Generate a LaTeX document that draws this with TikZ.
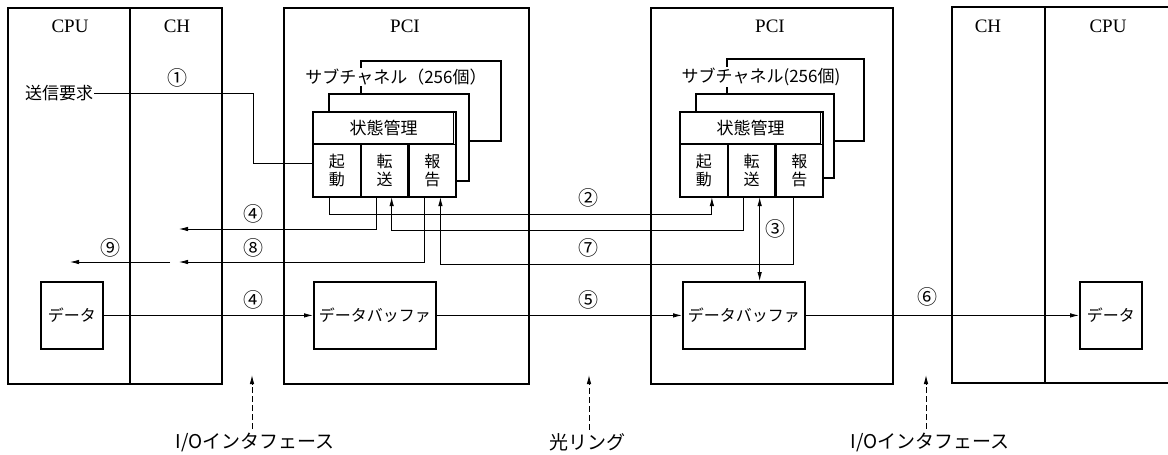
\documentclass[tikz,border=0pt]{standalone}
\usepackage{fontspec}
\newfontfamily\jp{Noto Sans CJK JP}
\newfontfamily\ttl{Liberation Serif}
\usetikzlibrary{arrows.meta,positioning}

\tikzset{
  frame/.style={draw,line width=2.4pt,anchor=north west,inner sep=0pt},
  divider/.style={line width=1.1pt},
  title/.style={font=\ttl\fontsize{19}{21}\selectfont},
  jptext/.style={font=\jp\fontsize{17}{20}\selectfont,inner sep=1pt},
  num/.style={font=\jp\fontsize{20}{22}\selectfont,inner sep=0pt},
  sub/.style={draw,line width=1.8pt,fill=white,anchor=north west,inner sep=0pt},
  head/.style={draw,line width=1.1pt,fill=white,anchor=north west,inner sep=0pt,
    minimum width=140pt,minimum height=31pt,font=\jp\fontsize{17}{20}\selectfont},
  cell/.style={draw,line width=1.1pt,fill=white,inner sep=0pt,minimum width=46.67pt,
    minimum height=52pt,align=center,font=\jp\fontsize{16}{18}\selectfont},
  databox/.style={draw,line width=1.8pt,anchor=north west,inner sep=0pt,
    font=\jp\fontsize{16}{18}\selectfont},
  link/.style={line width=0.8pt},
  guide/.style={line width=0.9pt,dash pattern=on 6pt off 3pt,->},
  bottomlbl/.style={font=\jp\fontsize{19}{22}\selectfont}
}

\begin{document}
\begin{tikzpicture}[x=1pt,y=-1pt,>={Latex[length=9pt,width=4.5pt]}]
\useasboundingbox (0,0) rectangle (1168,455);

% host (left), PCI, PCI, host (right)
\node[frame,minimum width=214pt,minimum height=376pt] (lhost) at (7,7) {};
\draw[divider] (130,7) -- (130,383);
\node[frame,minimum width=245pt,minimum height=376pt] (pci1) at (283,7) {};
\node[frame,minimum width=242pt,minimum height=376pt] (pci2) at (650,7) {};
\draw[line width=2.4pt] (1172,7) -| (952,383) -- (1172,383);
\draw[divider] (1045,7) -- (1045,383);

\node[title] (cpu1) at (70,26) {CPU};
\node[title] (ch1) at (177,26) {CH};
\node[title] (pcit1) at (405,26) {PCI};
\node[title] (pcit2) at (770,26) {PCI};
\node[title] (ch2) at (988,26) {CH};
\node[title] (cpu2) at (1108,26) {CPU};

% sub channels, PCI 1
\node[sub,minimum width=140pt,minimum height=80pt] (back1) at (360,60) {};
\node[jptext,fill=white] (sublbl1) at (396,77) {サブチャネル（256個）};
\node[sub,minimum width=140pt,minimum height=87pt] (mid1) at (328,93) {};
\node[head] (st1) at (313,112) {状態管理};
\node[cell,anchor=north west] (kido1) at (st1.south west) {起\\動};
\node[cell,anchor=west] (tenso1) at (kido1.east) {転\\送};
\node[cell,anchor=west] (hokoku1) at (tenso1.east) {報\\告};
\draw[line width=1.8pt] (st1.north west) rectangle (hokoku1.south east);

% sub channels, PCI 2
\node[sub,minimum width=137pt,minimum height=82pt] (back2) at (726,58) {};
\node[jptext,fill=white] (sublbl2) at (761,77) {サブチャネル(256個)};
\node[sub,minimum width=138pt,minimum height=84pt] (mid2) at (695,93) {};
\node[head] (st2) at (680,112) {状態管理};
\node[cell,anchor=north west] (kido2) at (st2.south west) {起\\動};
\node[cell,anchor=west] (tenso2) at (kido2.east) {転\\送};
\node[cell,anchor=west] (hokoku2) at (tenso2.east) {報\\告};
\draw[line width=1.8pt] (st2.north west) rectangle (hokoku2.south east);

% data boxes
\node[databox,minimum width=62pt,minimum height=67pt] (data1) at (40,281) {データ};
\node[databox,minimum width=122pt,minimum height=67pt] (buf1) at (313,281) {データバッファ};
\node[databox,minimum width=122pt,minimum height=67pt] (buf2) at (682,281) {データバッファ};
\node[databox,minimum width=62pt,minimum height=67pt] (data2) at (1079,281) {データ};

% request
\node[jptext] (req) at (59,93) {送信要求};
\coordinate (bend1) at (253,93);
\draw[link] (req.east) -- (bend1) |- ([yshift=7pt]kido1.west);

% control lines
\coordinate (a4) at (179,229);
\coordinate (a8) at (179,262);
\coordinate (a9s) at (170,262);
\coordinate (a9e) at (70,262);
\draw[link,->] ([xshift=-7pt]kido1.south) -- ++(0,17) -| ([xshift=8pt]kido2.south);
\draw[link,->] ([xshift=-8pt]tenso1.south) |- (a4);
\draw[link,->] ([xshift=-8pt]tenso2.south) -- ++(0,33) -| ([xshift=7pt]tenso1.south);
\draw[link,->] ([xshift=-8pt]hokoku1.south) |- (a8);
\draw[link,->] ([xshift=-6pt]hokoku2.south) -- ++(0,67) -| ([xshift=8pt]hokoku1.south);
\draw[link,->] (a9s) -- (a9e);
\draw[link,<->] ([xshift=8pt]tenso2.south) -- ([xshift=8pt]tenso2.south |- buf2.north);

% data lines
\draw[link,->] (data1) -- (buf1);
\draw[link,->] (buf1) -- (buf2);
\draw[link,->] (buf2) -- (data2);

% step numbers
\node[num] (n1) at (177,78) {①};
\node[num] (n2) at (588,198) {②};
\node[num] (n3) at (775,229) {③};
\node[num] (n4a) at (253,214) {④};
\node[num] (n8) at (253,248) {⑧};
\node[num] (n9) at (110,248) {⑨};
\node[num] (n7) at (588,248) {⑦};
\node[num] (n4b) at (253,300) {④};
\node[num] (n5) at (588,300) {⑤};
\node[num] (n6) at (927,297) {⑥};

% interfaces
\coordinate (gap1) at (252,375);
\coordinate (gap2) at (589,375);
\coordinate (gap3) at (926,375);
\node[bottomlbl] (iof1) at (255,442) {I/Oインタフェース};
\node[bottomlbl] (ring) at (587,442) {光リング};
\node[bottomlbl] (iof2) at (930,442) {I/Oインタフェース};
\draw[guide] (iof1.north -| gap1) -- (gap1);
\draw[guide] (ring.north -| gap2) -- (gap2);
\draw[guide] (iof2.north -| gap3) -- (gap3);
\end{tikzpicture}
\end{document}
